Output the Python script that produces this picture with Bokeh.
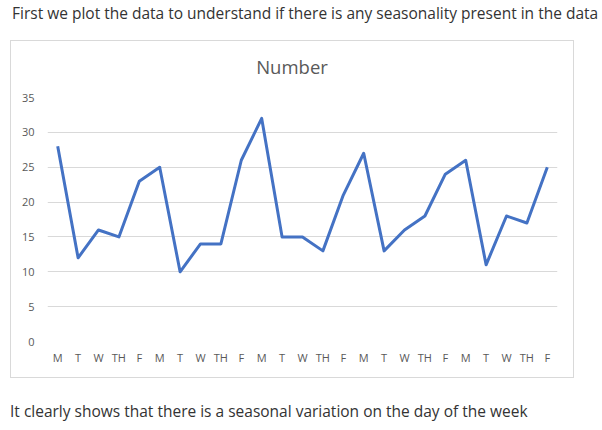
from bokeh.plotting import figure
from bokeh.models import FixedTicker, Range1d, ColumnDataSource, Div
from bokeh.layouts import column
from bokeh.embed import file_html
from bokeh.resources import INLINE

days = ["M", "T", "W", "TH", "F"] * 5
numbers = [28, 12, 16, 15, 23,
           25, 10, 14, 14, 26,
           32, 15, 15, 13, 21,
           27, 13, 16, 18, 24,
           26, 11, 18, 17, 25]
y_ticks = [0, 5, 10, 15, 20, 25, 30, 35]
title_text = "Number"
intro_text = "First we plot the data to understand if there is any seasonality present in the data"
outro_text = "It clearly shows that there is a seasonal variation on the day of the week"

idx = list(range(len(numbers)))
src = ColumnDataSource(dict(x=idx, y=numbers))

FONT = "Open Sans"
p = figure(width=562, height=296, output_backend="svg", toolbar_location=None,
           x_range=Range1d(-0.5, len(numbers) - 0.5), y_range=Range1d(0, 35),
           min_border_left=36, min_border_right=16, min_border_top=16, min_border_bottom=36,
           margin=(0, 0, 0, 0))
p.outline_line_color = None
p.background_fill_color = "white"
p.border_fill_color = "white"

p.line("x", "y", source=src, line_color="#4472C4", line_width=3, line_join="round")

p.xaxis.ticker = FixedTicker(ticks=idx)
p.xaxis.major_label_overrides = {i: d for i, d in zip(idx, days)}
p.yaxis.ticker = FixedTicker(ticks=y_ticks)
for ax in (p.xaxis[0], p.yaxis[0]):
    ax.axis_line_color = None
    ax.major_tick_line_color = None
    ax.minor_tick_line_color = None
    ax.major_tick_out = 0
    ax.major_tick_in = 0
    ax.minor_tick_out = 0
    ax.major_label_text_font = FONT
    ax.major_label_text_font_size = "11px"
    ax.major_label_text_color = "#595959"
p.yaxis.major_label_standoff = 13
p.xaxis.major_label_standoff = 8
p.xgrid.grid_line_color = None
p.ygrid.grid_line_color = "#d9d9d9"
p.ygrid.grid_line_width = 1

title_div = Div(text=title_text, width=562, height=26, margin=(14, 0, 0, 0),
                styles={"font-family": FONT, "font-size": "18.5px", "color": "#595959",
                        "line-height": "24px", "text-align": "center", "width": "562px"})
chart = column(title_div, p, width=562, height=336, spacing=0, margin=(1, 0, 0, 11),
               styles={"outline": "1px solid #d9d9d9", "background-color": "white"})

text_style = {"font-family": FONT, "font-size": "15.5px", "color": "#333333",
              "line-height": "26px", "white-space": "nowrap"}
intro = Div(text=intro_text, width=590, height=40, margin=(0, 0, 0, 12), styles=text_style)
outro = Div(text=outro_text, width=590, height=30, margin=(21, 0, 0, 10), styles=text_style)

layout = column(intro, chart, outro, width=602, height=430, spacing=0)

open("out.html", "w").write(file_html(layout, INLINE))
